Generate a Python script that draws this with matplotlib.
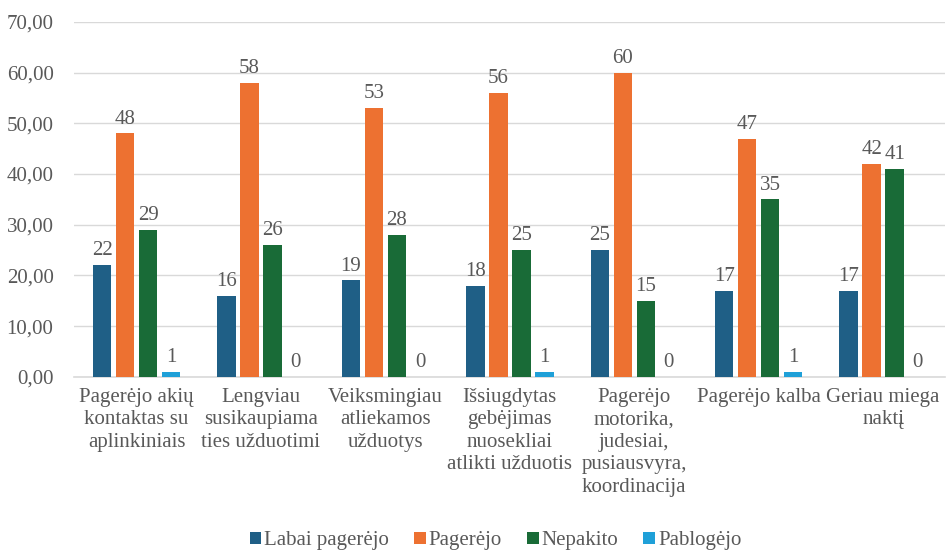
import numpy as np
import matplotlib.pyplot as plt

plt.rcParams['font.family'] = ['Liberation Serif', 'DejaVu Serif']

categories = [
    "Pagerėjo akių\nkontaktas su\naplinkiniais",
    "Lengviau\nsusikaupiama\nties užduotimi",
    "Veiksmingiau\natliekamos\nužduotys",
    "Išsiugdytas\ngebėjimas\nnuosekliai\natlikti užduotis",
    "Pagerėjo\nmotorika,\njudesiai,\npusiausvyra,\nkoordinacija",
    "Pagerėjo kalba",
    "Geriau miega\nnaktį",
]
labai_pagerejo = [22, 16, 19, 18, 25, 17, 17]
pagerejo = [48, 58, 53, 56, 60, 47, 42]
nepakito = [29, 26, 28, 25, 15, 35, 41]
pablogejo = [1, 0, 0, 1, 0, 1, 0]

series = [
    ("Labai pagerėjo", labai_pagerejo, "#1F5F86"),
    ("Pagerėjo", pagerejo, "#ED7131"),
    ("Nepakito", nepakito, "#196B37"),
    ("Pablogėjo", pablogejo, "#1FA0D8"),
]

text_col = "#595959"
fs = 15
fig = plt.figure(figsize=(9.53, 5.5), dpi=100)
ax = fig.add_axes([0.078, 0.315, 0.914, 0.645])

x = np.arange(len(categories))
step = 0.185
width = 0.148
for i, (name, vals, col) in enumerate(series):
    pos = x + (i - 1.5) * step
    bars = ax.bar(pos, vals, width, color=col, label=name, zorder=3)
    for b, v in zip(bars, vals):
        ax.annotate(str(v), (b.get_x() + b.get_width() / 2, v),
                    xytext=(0, 3.5), textcoords="offset points",
                    ha="center", va="bottom", fontsize=fs, color=text_col)

ax.set_xlim(-0.5, len(categories) - 0.5)
ax.set_ylim(0, 70)
ax.set_yticks(np.arange(0, 71, 10))
ax.set_yticklabels([f"{t:.2f}".replace(".", ",") for t in np.arange(0, 71, 10)])
ax.set_xticks(x)
ax.set_xticklabels(categories, linespacing=1.25)
ax.tick_params(axis="both", length=0, labelsize=fs, colors=text_col)
ax.tick_params(axis="x", pad=8)
ax.tick_params(axis="y", pad=15)
ax.grid(axis="y", color="#D9D9D9", linewidth=1, zorder=0)
for s in ["top", "right", "left"]:
    ax.spines[s].set_visible(False)
ax.spines["bottom"].set_color("#D9D9D9")
ax.spines["bottom"].set_linewidth(1.2)

fig.legend(loc="lower center", bbox_to_anchor=(0.52, -0.035), ncol=4, frameon=False,
           fontsize=fs, labelcolor=text_col, handlelength=0.55, handleheight=0.55,
           handletextpad=0.15, columnspacing=1.2)

fig.savefig("out.png", dpi=100)
